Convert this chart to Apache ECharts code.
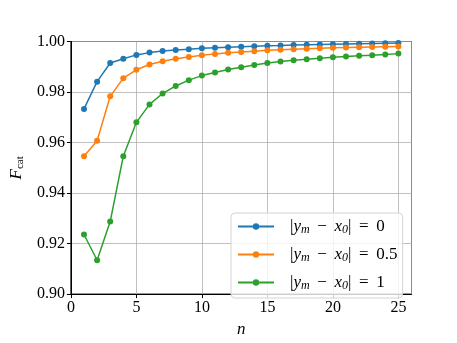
<!DOCTYPE html>
<html>
<head>
<meta charset="utf-8">
<script src="https://cdn.jsdelivr.net/npm/echarts@6/dist/echarts.min.js"></script>
<style>
html, body { margin: 0; padding: 0; background: #fff; }
#chart { width: 457px; height: 343px; }
</style>
</head>
<body>
<div id="chart"></div>
<script>
// n values
var nValues = [1, 2, 3, 4, 5, 6, 7, 8, 9, 10, 11, 12, 13, 14, 15, 16, 17, 18, 19, 20, 21, 22, 23, 24, 25];
// |y_m - x_0| = 0
var fcat0 = [0.9733, 0.9841, 0.9915, 0.9932, 0.9947, 0.9956, 0.9962, 0.9966, 0.9969, 0.9973, 0.9975, 0.9977, 0.9979,
    0.9981, 0.9983, 0.9984, 0.9986, 0.9987, 0.9988, 0.9989, 0.9990, 0.9991, 0.9992, 0.9993, 0.9994];
// |y_m - x_0| = 0.5
var fcat05 = [0.9546, 0.9607, 0.9783, 0.9855, 0.9888, 0.9909, 0.9922, 0.9932, 0.9939, 0.9946, 0.9951, 0.9955, 0.9958,
    0.9961, 0.9965, 0.9967, 0.9969, 0.9971, 0.9973, 0.9975, 0.9976, 0.9977, 0.9978, 0.9979, 0.9980];
// |y_m - x_0| = 1
var fcat1 = [0.9236, 0.9134, 0.9287, 0.9546, 0.9680, 0.9751, 0.9794, 0.9824, 0.9847, 0.9865, 0.9877, 0.9889, 0.9898,
    0.9907, 0.9915, 0.9921, 0.9926, 0.9930, 0.9934, 0.9938, 0.9941, 0.9944, 0.9946, 0.9949, 0.9952];
var seriesNames = ['0', '0.5', '1'];
var seriesColors = ['#1f77b4', '#ff7f0e', '#2ca02c'];

var serif = '"Liberation Serif", "DejaVu Serif", serif';

function pairs(ys) {
    return nValues.map(function (n, i) { return [n, ys[i]]; });
}

function makeSeries(name, ys, color) {
    return {
        name: name,
        type: 'line',
        data: pairs(ys),
        color: color,
        symbol: 'circle',
        symbolSize: 6,
        showSymbol: true,
        lineStyle: { width: 1.5, color: color },
        itemStyle: { color: color },
        emphasis: { disabled: true },
        animation: false
    };
}

var myChart = echarts.init(document.getElementById('chart'), null, { renderer: 'canvas' });

var option = {
    backgroundColor: '#fff',
    animation: false,
    grid: {
        left: 57,
        right: 45.5,
        top: 41.5,
        bottom: 38,
        show: true,
        borderColor: '#000',
        borderWidth: 1,
        backgroundColor: 'transparent'
    },
    xAxis: {
        type: 'value',
        min: 0,
        max: 26,
        interval: 5,
        name: 'n',
        nameLocation: 'middle',
        nameGap: 23,
        nameTextStyle: { fontFamily: serif, fontStyle: 'italic', fontSize: 17, color: '#000' },
        axisLine: { show: true, lineStyle: { color: '#000', width: 1 } },
        axisTick: { show: true, length: 4, lineStyle: { color: '#000' } },
        axisLabel: { fontFamily: serif, fontSize: 16, color: '#000', margin: 6, showMaxLabel: false },
        splitLine: { show: true, lineStyle: { color: '#b0b0b0', width: 0.8 } }
    },
    yAxis: {
        type: 'value',
        min: 0.9,
        max: 1.0,
        interval: 0.02,
        name: '{f|F}{s|cat}',
        nameLocation: 'middle',
        nameRotate: 90,
        nameGap: 36,
        nameTextStyle: {
            color: '#000',
            rich: {
                f: { fontFamily: serif, fontStyle: 'italic', fontSize: 17, color: '#000' },
                s: { fontFamily: serif, fontSize: 11, color: '#000', padding: [8, 0, 0, 0] }
            }
        },
        axisLine: { show: true, lineStyle: { color: '#000', width: 1 } },
        axisTick: { show: true, length: 4, lineStyle: { color: '#000' } },
        axisLabel: {
            fontFamily: serif, fontSize: 16, color: '#000', margin: 6,
            formatter: function (v) { return v.toFixed(2); }
        },
        splitLine: { show: true, lineStyle: { color: '#b0b0b0', width: 0.8 } }
    },
    legend: {
        orient: 'vertical',
        left: 231,
        top: 213,
        itemWidth: 36,
        itemHeight: 8,
        itemGap: 10,
        padding: [5, 5, 6, 6],
        backgroundColor: 'rgba(255,255,255,0.8)',
        borderColor: '#d4d4d4',
        borderWidth: 1,
        borderRadius: 4,
        data: seriesNames,
        formatter: function (name) {
            return '{t||}{i|y}{s|m}{t| \u2009−\u2009 }{i|x}{s|0}{t|| \u2009=\u2009 ' + name + '}';
        },
        textStyle: {
            color: '#000',
            padding: [0, 0, 0, 11],
            rich: {
                t: { fontFamily: serif, fontSize: 17, color: '#000' },
                i: { fontFamily: serif, fontStyle: 'italic', fontSize: 17, color: '#000' },
                s: { fontFamily: serif, fontStyle: 'italic', fontSize: 12, color: '#000', padding: [7, 0, 0, 0] }
            }
        }
    },
    series: [
        makeSeries(seriesNames[0], fcat0, seriesColors[0]),
        makeSeries(seriesNames[1], fcat05, seriesColors[1]),
        makeSeries(seriesNames[2], fcat1, seriesColors[2])
    ]
};
myChart.setOption(option);
</script>
</body>
</html>
